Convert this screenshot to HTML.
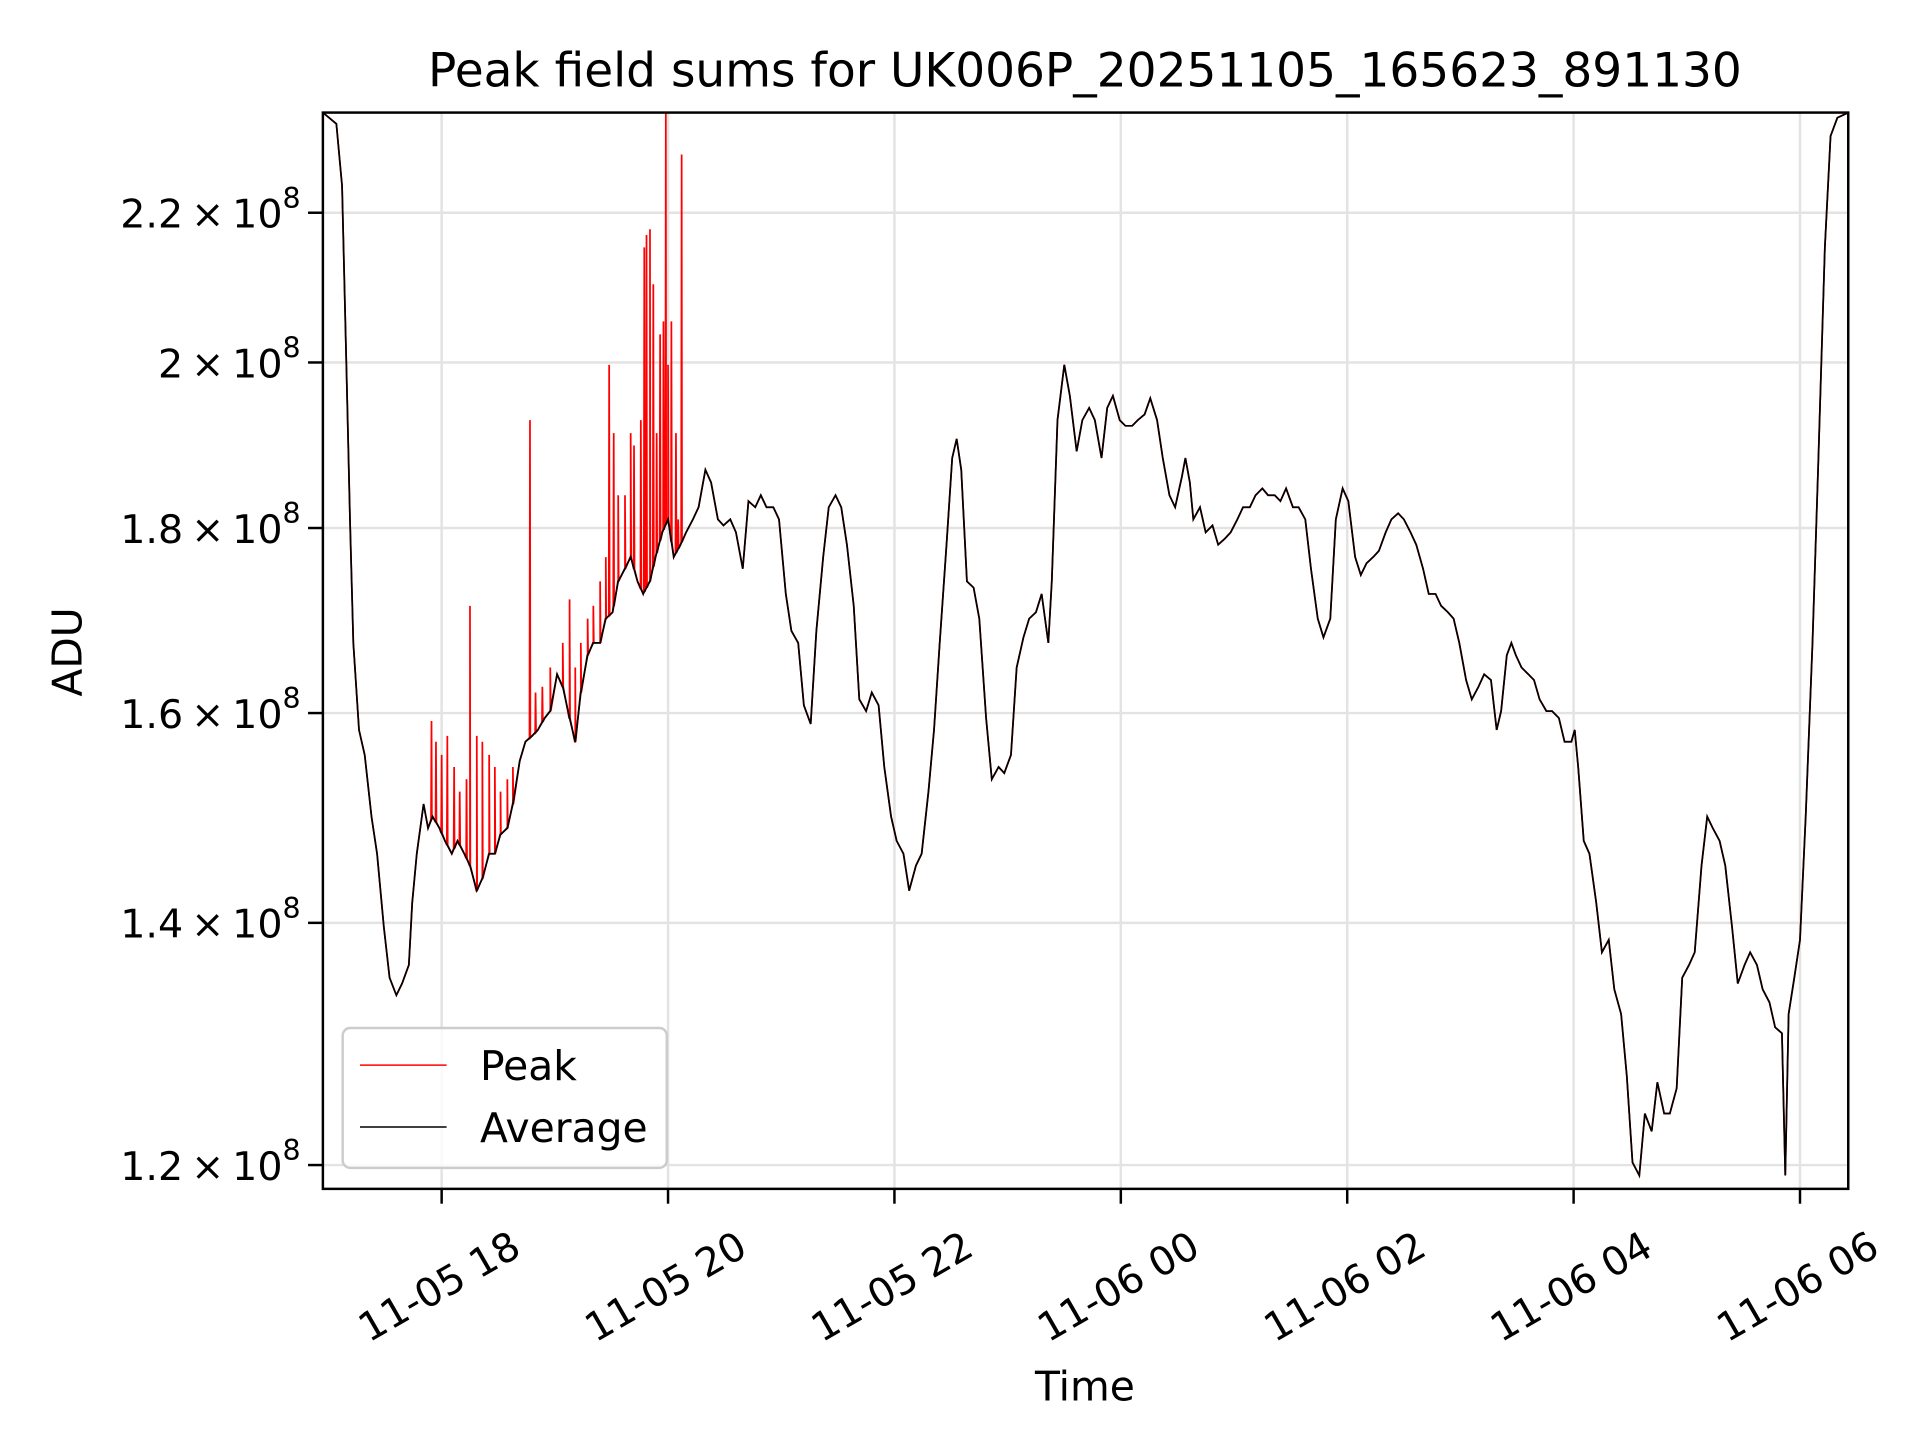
<!DOCTYPE html>
<html><head><meta charset="utf-8"><style>
html,body{margin:0;padding:0;background:#fff;}
svg{display:block;font-family:"DejaVu Sans","Liberation Sans",sans-serif;}
</style></head><body>
<svg id="chart" width="1920" height="1440" viewBox="0 0 1552 1164" xmlns="http://www.w3.org/2000/svg">
<rect width="1552" height="1164" fill="#fff"/>
<text x="877" y="70" font-size="38" text-anchor="middle">Peak field sums for UK006P_20251105_165623_891130</text>
<g id="grid"></g>
<g id="axes-ticks"></g>
<defs><clipPath id="clip"><rect x="261" y="91" width="1233" height="870"/></clipPath></defs>
<g clip-path="url(#clip)">
<path id="peak-line" fill="none" stroke="#ff0000" stroke-width="1.4"/>
<path id="avg-line" fill="none" stroke="#000" stroke-width="1.4"/>
</g>
<rect x="261" y="91" width="1233" height="870" fill="none" stroke="#000" stroke-width="2"/>
<text transform="translate(66,527) rotate(-90)" font-size="33" text-anchor="middle">ADU</text>
<text x="877" y="1132" font-size="33" text-anchor="middle">Time</text>
<g>
<rect x="277" y="831" width="262" height="113" rx="6" fill="#fff" fill-opacity="0.8" stroke="#ccc" stroke-width="2"/>
<line x1="291" y1="861" x2="361" y2="861" stroke="#f00" stroke-width="1.2"/>
<text x="388" y="873" font-size="33">Peak</text>
<line x1="291" y1="911" x2="361" y2="911" stroke="#000" stroke-width="1.2"/>
<text x="388" y="923" font-size="33">Average</text>
</g>
</svg>
<script>
// hours since 2025-11-05 00:00 ; values in units of 1e8 ADU
const avgTimes=[16.95,17.07,17.12,17.16,17.19,17.22,17.27,17.32,17.38,17.43,17.49,17.54,17.60,17.65,17.71,17.74,17.78,17.84,17.88,17.92,17.98,18.03,18.09,18.14,18.20,18.25,18.31,18.36,18.42,18.47,18.52,18.58,18.63,18.69,18.74,18.80,18.85,18.91,18.96,19.02,19.07,19.13,19.18,19.23,19.29,19.34,19.40,19.45,19.51,19.56,19.62,19.67,19.73,19.78,19.84,19.89,19.95,20.00,20.05,20.11,20.16,20.22,20.27,20.33,20.38,20.44,20.49,20.55,20.60,20.66,20.71,20.77,20.82,20.87,20.93,20.98,21.04,21.09,21.15,21.20,21.26,21.31,21.37,21.42,21.48,21.53,21.58,21.64,21.69,21.75,21.80,21.86,21.91,21.97,22.02,22.08,22.13,22.19,22.24,22.30,22.35,22.40,22.46,22.51,22.55,22.59,22.64,22.70,22.75,22.81,22.86,22.92,22.97,23.03,23.08,23.14,23.19,23.25,23.30,23.36,23.39,23.44,23.50,23.55,23.61,23.66,23.72,23.77,23.83,23.88,23.93,23.99,24.04,24.10,24.15,24.21,24.26,24.32,24.37,24.43,24.48,24.54,24.57,24.61,24.64,24.70,24.75,24.81,24.86,24.92,24.97,25.03,25.08,25.14,25.19,25.25,25.30,25.36,25.41,25.46,25.52,25.57,25.63,25.68,25.74,25.79,25.85,25.90,25.96,26.01,26.07,26.12,26.17,26.23,26.28,26.34,26.39,26.45,26.50,26.56,26.61,26.67,26.72,26.78,26.83,26.89,26.94,26.99,27.05,27.10,27.16,27.21,27.27,27.32,27.36,27.41,27.45,27.49,27.54,27.60,27.65,27.70,27.76,27.81,27.87,27.92,27.98,28.01,28.04,28.09,28.14,28.20,28.25,28.31,28.36,28.42,28.47,28.52,28.58,28.63,28.69,28.74,28.80,28.85,28.91,28.96,29.02,29.07,29.13,29.18,29.23,29.29,29.34,29.40,29.45,29.51,29.56,29.62,29.67,29.73,29.78,29.84,29.87,29.90,29.95,30.00,30.05,30.11,30.16,30.22,30.27,30.33,30.43];
const avgValues=[2.345,2.328,2.238,1.989,1.810,1.673,1.583,1.558,1.498,1.463,1.396,1.352,1.337,1.347,1.363,1.418,1.463,1.510,1.487,1.498,1.487,1.475,1.463,1.475,1.463,1.452,1.429,1.440,1.463,1.463,1.481,1.487,1.510,1.552,1.571,1.577,1.583,1.595,1.602,1.640,1.627,1.595,1.571,1.621,1.660,1.673,1.673,1.699,1.706,1.740,1.754,1.767,1.740,1.726,1.740,1.767,1.795,1.810,1.767,1.781,1.795,1.810,1.824,1.868,1.853,1.810,1.803,1.810,1.795,1.754,1.831,1.824,1.838,1.824,1.824,1.810,1.726,1.686,1.673,1.608,1.589,1.686,1.767,1.824,1.838,1.824,1.781,1.713,1.614,1.602,1.621,1.608,1.546,1.498,1.475,1.463,1.429,1.452,1.463,1.522,1.583,1.673,1.781,1.882,1.905,1.868,1.740,1.733,1.699,1.595,1.534,1.546,1.540,1.558,1.647,1.679,1.699,1.706,1.726,1.673,1.740,1.928,1.997,1.958,1.890,1.928,1.943,1.928,1.882,1.943,1.958,1.928,1.921,1.921,1.928,1.935,1.955,1.928,1.882,1.838,1.824,1.860,1.882,1.853,1.810,1.824,1.795,1.803,1.781,1.788,1.795,1.810,1.824,1.824,1.838,1.846,1.838,1.838,1.831,1.846,1.824,1.824,1.810,1.754,1.699,1.679,1.699,1.810,1.846,1.831,1.767,1.747,1.760,1.767,1.774,1.795,1.810,1.817,1.810,1.795,1.781,1.754,1.726,1.726,1.713,1.706,1.699,1.673,1.634,1.614,1.627,1.640,1.634,1.583,1.602,1.660,1.673,1.660,1.647,1.640,1.634,1.614,1.602,1.602,1.595,1.571,1.571,1.583,1.546,1.475,1.463,1.418,1.374,1.385,1.342,1.321,1.270,1.202,1.192,1.240,1.226,1.265,1.240,1.240,1.260,1.352,1.363,1.374,1.452,1.498,1.487,1.475,1.452,1.396,1.347,1.363,1.374,1.363,1.342,1.331,1.310,1.305,1.192,1.321,1.352,1.385,1.498,1.673,1.868,2.152,2.310,2.337,2.345];
const spikeTimes=[17.91,17.95,18.00,18.05,18.11,18.16,18.22,18.25,18.31,18.36,18.42,18.47,18.52,18.58,18.63,18.78,18.83,18.89,18.96,19.07,19.13,19.18,19.23,19.29,19.34,19.40,19.45,19.48,19.52,19.56,19.62,19.67,19.70,19.76,19.79,19.81,19.84,19.87,19.90,19.93,19.96,19.98,20.00,20.03,20.07,20.09,20.12];
const spikeValues=[1.592,1.571,1.558,1.577,1.546,1.522,1.534,1.713,1.577,1.571,1.558,1.546,1.522,1.534,1.546,1.928,1.621,1.627,1.647,1.673,1.720,1.647,1.673,1.699,1.713,1.740,1.767,1.997,1.912,1.838,1.838,1.912,1.897,1.928,2.152,2.169,2.177,2.102,1.912,2.036,2.053,2.345,1.997,2.053,1.912,1.810,2.283];
const yTickValues=[1.2,1.4,1.6,1.8,2.0,2.2];
const yTickLabels=["1.2","1.4","1.6","1.8","2","2.2"];
const xTickHours=[18,20,22,24,26,28,30];
const xTickLabels=["11-05 18","11-05 20","11-05 22","11-06 00","11-06 02","11-06 04","11-06 06"];

const NS="http://www.w3.org/2000/svg";
const L=261,R=1494,T=91,B=961;
const X=h=>357+(h-18)*91.5;
const Y=v=>293-1270*Math.log(v/2.0);
function interpAvg(t){
  for(let i=1;i<avgTimes.length;i++){
    if(avgTimes[i]>=t){const f=(t-avgTimes[i-1])/(avgTimes[i]-avgTimes[i-1]);return avgValues[i-1]+f*(avgValues[i]-avgValues[i-1]);}
  }
  return avgValues[avgValues.length-1];
}
let avgD="";
avgTimes.forEach((t,i)=>{avgD+=(i?"L":"M")+X(t).toFixed(1)+","+Y(avgValues[i]).toFixed(1);});
document.getElementById("avg-line").setAttribute("d",avgD);
let pts=avgTimes.map((t,i)=>[t,avgValues[i]]);
spikeTimes.forEach((t,i)=>{const a=interpAvg(t);pts.push([t-0.004,a]);pts.push([t,spikeValues[i]]);pts.push([t+0.004,a]);});
pts.sort((a,b)=>a[0]-b[0]);
let pkD="";
pts.forEach((p,i)=>{pkD+=(i?"L":"M")+X(p[0]).toFixed(1)+","+Y(p[1]).toFixed(1);});
document.getElementById("peak-line").setAttribute("d",pkD);

const grid=document.getElementById("grid"),ax=document.getElementById("axes-ticks");
yTickValues.forEach((v,i)=>{
  const y=Y(v);
  const g=document.createElementNS(NS,"line");
  g.setAttribute("x1",L);g.setAttribute("x2",R);g.setAttribute("y1",y);g.setAttribute("y2",y);
  g.setAttribute("stroke","#e3e3e3");g.setAttribute("stroke-width","2");
  
  
  grid.appendChild(g);
  const tk=document.createElementNS(NS,"line");
  tk.setAttribute("x1",L-12);tk.setAttribute("x2",L);tk.setAttribute("y1",y);tk.setAttribute("y2",y);
  tk.setAttribute("stroke","#000");tk.setAttribute("stroke-width","2");
  
  
  ax.appendChild(tk);
  const tx=document.createElementNS(NS,"text");
  tx.setAttribute("x",L-18);tx.setAttribute("y",y+12);tx.setAttribute("text-anchor","end");tx.setAttribute("font-size","32");
  tx.textContent=yTickLabels[i]+"\u2009\u00d7\u200910";
  const sup=document.createElementNS(NS,"tspan");
  sup.setAttribute("font-size","23");sup.setAttribute("dy","-16");
  sup.textContent="8";
  
  
  tx.appendChild(sup);
  
  
  ax.appendChild(tx);
});
xTickHours.forEach((h,i)=>{
  const x=X(h);
  const g=document.createElementNS(NS,"line");
  g.setAttribute("x1",x);g.setAttribute("x2",x);g.setAttribute("y1",T);g.setAttribute("y2",B);
  g.setAttribute("stroke","#e3e3e3");g.setAttribute("stroke-width","2");
  
  
  grid.appendChild(g);
  const tk=document.createElementNS(NS,"line");
  tk.setAttribute("x1",x);tk.setAttribute("x2",x);tk.setAttribute("y1",B);tk.setAttribute("y2",B+12);
  tk.setAttribute("stroke","#000");tk.setAttribute("stroke-width","2");
  
  
  ax.appendChild(tk);
  const tx=document.createElementNS(NS,"text");
  tx.setAttribute("transform","translate("+(x-2)+",1040) rotate(-30)");
  tx.setAttribute("text-anchor","middle");tx.setAttribute("font-size","32");tx.setAttribute("dy","11");
  tx.textContent=xTickLabels[i];
  
  
  ax.appendChild(tx);
});
</script>
</body></html>
